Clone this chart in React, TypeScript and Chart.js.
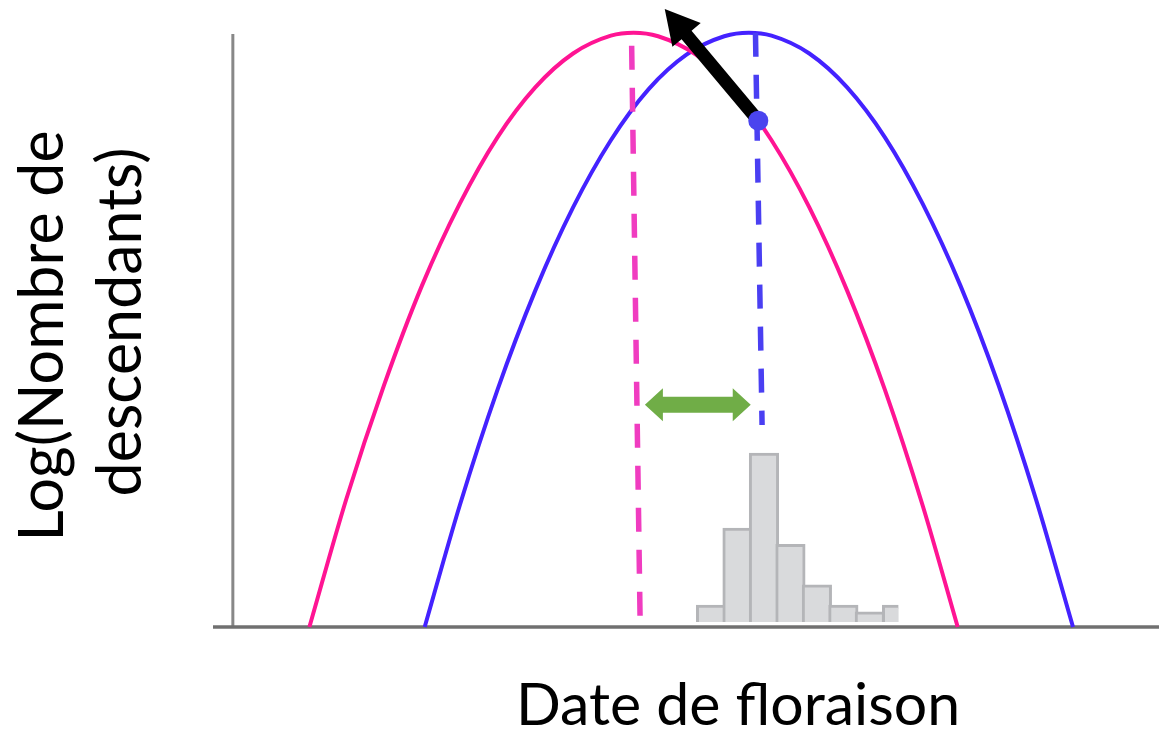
import { useEffect, useRef } from "react";
import { Chart, registerables } from "chart.js";

Chart.register(...registerables);

// Flowering date (arbitrary units) against log(offspring), scaled so the optimum is 100.
const pinkDates = [8.1, 12, 16, 20, 24, 28, 32, 36, 40, 42.4, 45, 49, 53, 57, 61, 65, 69, 73, 76.7];
const pinkFitness = [0, 21.5, 40.7, 57.4, 71.2, 82.4, 90.8, 96.5, 99.5, 100, 99.4, 96.3, 90.5, 81.9, 70.6, 56.6, 39.9, 20.4, 0];
const blueDates = [20.3, 24, 28, 32, 36, 40, 44, 48, 52, 54.6, 57, 61, 65, 69, 73, 77, 81, 85, 88.9];
const blueFitness = [0, 20.4, 39.9, 56.6, 70.6, 81.9, 90.5, 96.3, 99.4, 100, 99.5, 96.5, 90.8, 82.4, 71.2, 57.4, 40.8, 21.4, 0];

// Vertical markers at each optimum (top point first so the dash pattern starts at the top)
const pinkOptimumDates = [42.2, 43.1];
const pinkOptimumLevels = [97.8, 0.5];
const blueOptimumDates = [55.3, 56.0];
const blueOptimumLevels = [100, 34];

// Mean flowering date of the population, sitting on the pink curve
const meanDate = [55.6];
const meanFitness = [85.2];

// Selection arrow (from the mean toward the pink optimum) and the lag arrow
const selectionDates = [55.6, 45.7];
const selectionLevels = [85.2, 104];
const lagDates = [43.6, 54.8];
const lagLevel = [37.4];

// Flowering date histogram
const binStart = 49.2;
const binWidth = 2.8;
const binCounts = [2, 11.1, 20, 9.2, 4.4, 2, 1.2];
const lastBinEdges = [68.8, 70.37];
const lastBinCount = [2];

// Axis lines
const axisDates = [-2.1, 98];
const axisLevels = [0, 99.8];

const xTitle = "Date de floraison";
const yTitle = ["Log(Nombre de", "descendants)"];

const DOT_INDEX = 0;

function arrowPolygon(
  ctx: CanvasRenderingContext2D,
  sx: number,
  sy: number,
  tx: number,
  ty: number,
  shaft: number,
  headLen: number,
  headHalf: number
) {
  const dx = tx - sx;
  const dy = ty - sy;
  const len = Math.hypot(dx, dy);
  const ux = dx / len;
  const uy = dy / len;
  const nx = -uy;
  const ny = ux;
  const bx = tx - ux * headLen;
  const by = ty - uy * headLen;
  const s = shaft / 2;
  ctx.beginPath();
  ctx.moveTo(sx + nx * s, sy + ny * s);
  ctx.lineTo(bx + nx * s, by + ny * s);
  ctx.lineTo(bx + nx * headHalf, by + ny * headHalf);
  ctx.lineTo(tx, ty);
  ctx.lineTo(bx - nx * headHalf, by - ny * headHalf);
  ctx.lineTo(bx - nx * s, by - ny * s);
  ctx.lineTo(sx - nx * s, sy - ny * s);
  ctx.closePath();
  ctx.fill();
}

function doubleArrow(
  ctx: CanvasRenderingContext2D,
  lx: number,
  rx: number,
  cy: number,
  shaft: number,
  headLen: number,
  headHalf: number
) {
  const s = shaft / 2;
  ctx.beginPath();
  ctx.moveTo(lx, cy);
  ctx.lineTo(lx + headLen, cy - headHalf);
  ctx.lineTo(lx + headLen, cy - s);
  ctx.lineTo(rx - headLen, cy - s);
  ctx.lineTo(rx - headLen, cy - headHalf);
  ctx.lineTo(rx, cy);
  ctx.lineTo(rx - headLen, cy + headHalf);
  ctx.lineTo(rx - headLen, cy + s);
  ctx.lineTo(lx + headLen, cy + s);
  ctx.lineTo(lx + headLen, cy + headHalf);
  ctx.closePath();
  ctx.fill();
}

const overlayPlugin = {
  id: "overlay",
  beforeDatasetDraw(chart: any, args: any) {
    if (args.index !== DOT_INDEX) return;
    const ctx: CanvasRenderingContext2D = chart.ctx;
    const xs = chart.scales.x;
    const ys = chart.scales.y;
    ctx.save();
    ctx.fillStyle = "#000000";
    arrowPolygon(
      ctx,
      xs.getPixelForValue(selectionDates[0]),
      ys.getPixelForValue(selectionLevels[0]),
      xs.getPixelForValue(selectionDates[1]),
      ys.getPixelForValue(selectionLevels[1]),
      13,
      34,
      18.5
    );
    ctx.fillStyle = "#70ad47";
    doubleArrow(
      ctx,
      xs.getPixelForValue(lagDates[0]),
      xs.getPixelForValue(lagDates[1]),
      ys.getPixelForValue(lagLevel[0]),
      16,
      18,
      16.5
    );
    ctx.restore();
  },
  afterDraw(chart: any) {
    const ctx: CanvasRenderingContext2D = chart.ctx;
    ctx.save();
    ctx.fillStyle = "#000000";
    ctx.textAlign = "center";
    ctx.textBaseline = "alphabetic";
    ctx.font = "59px Lato, 'Open Sans', sans-serif";
    ctx.fillText(xTitle, 738, 725);
    ctx.font = "61px Lato, 'Open Sans', sans-serif";
    const lines = [
      { text: yTitle[0], x: 63, y: 336 },
      { text: yTitle[1], x: 141, y: 322 },
    ];
    for (const l of lines) {
      ctx.save();
      ctx.translate(l.x, l.y);
      ctx.rotate(-Math.PI / 2);
      ctx.fillText(l.text, 0, 0);
      ctx.restore();
    }
    ctx.restore();
  },
};

const pts = (xs: number[], ys: number[]) => xs.map((x, i) => ({ x, y: ys[i] }));

export default function App() {
  const canvasRef = useRef<HTMLCanvasElement | null>(null);

  useEffect(() => {
    const canvas = canvasRef.current;
    if (!canvas) return;

    const binCenters = binCounts.map((_, i) => binStart + binWidth * (i + 0.5));
    const lastCenter = (lastBinEdges[0] + lastBinEdges[1]) / 2;

    const chart = new Chart(canvas, {
      type: "line",
      data: {
        datasets: [
          {
            label: "moyenne",
            data: pts(meanDate, meanFitness),
            showLine: false,
            pointRadius: 10,
            pointBackgroundColor: "#4a44ee",
            pointBorderWidth: 0,
            order: 0,
          } as any,
          {
            label: "optimum rose",
            data: pts(pinkOptimumDates, pinkOptimumLevels),
            borderColor: "#f03cc0",
            borderWidth: 5.5,
            borderDash: [24, 18],
            pointRadius: 0,
            order: 2,
          },
          {
            label: "optimum bleu",
            data: pts(blueOptimumDates, blueOptimumLevels),
            borderColor: "#4a3ff2",
            borderWidth: 5.5,
            borderDash: [24, 18],
            pointRadius: 0,
            order: 1,
          },
          {
            label: "bleu",
            data: pts(blueDates, blueFitness),
            borderColor: "#4422ff",
            borderWidth: 4,
            pointRadius: 0,
            cubicInterpolationMode: "monotone",
            order: 4,
          },
          {
            label: "rose",
            data: pts(pinkDates, pinkFitness),
            borderColor: "#ff1493",
            borderWidth: 4,
            pointRadius: 0,
            cubicInterpolationMode: "monotone",
            order: 3,
          },
          {
            type: "bar",
            label: "histogramme",
            yAxisID: "yH",
            data: pts(binCenters, binCounts),
            backgroundColor: "#d9dadc",
            borderColor: "#b4b5b8",
            borderWidth: 3,
            borderSkipped: "start",
            barThickness: 29.5,
            grouped: false,
            order: 6,
          } as any,
          {
            type: "bar",
            label: "histogramme (fin)",
            yAxisID: "yH",
            data: pts([lastCenter], lastBinCount),
            backgroundColor: "#d9dadc",
            borderColor: "#b4b5b8",
            borderWidth: { top: 3, left: 3, right: 0, bottom: 0 },
            borderSkipped: false,
            barThickness: 16.3,
            grouped: false,
            order: 6,
          } as any,
          {
            label: "axe x",
            data: pts(axisDates, [0, 0]),
            borderColor: "#707070",
            borderWidth: 3.5,
            pointRadius: 0,
            order: 8,
          },
          {
            label: "axe y",
            data: pts([0, 0], axisLevels),
            borderColor: "#888888",
            borderWidth: 3,
            pointRadius: 0,
            order: 8,
          },
        ],
      },
      options: {
        responsive: false,
        maintainAspectRatio: false,
        animation: false,
        events: [],
        layout: {
          autoPadding: false,
          padding: { left: 213, right: 0, top: 0, bottom: 110 },
        },
        datasets: { line: { clip: false } as any },
        scales: {
          x: { type: "linear", min: -2.1, max: 98, display: false, offset: false },
          y: { type: "linear", min: 0, max: 105.5, display: false },
          yH: { type: "linear", min: -0.592, max: 73.61, display: false },
        },
        plugins: {
          legend: { display: false },
          tooltip: { enabled: false },
        },
      },
      plugins: [overlayPlugin],
    });

    return () => chart.destroy();
  }, []);

  return (
    <div
      style={{
        position: "fixed",
        left: 0,
        top: 0,
        width: 1159,
        height: 737,
        background: "#ffffff",
      }}
    >
      <canvas ref={canvasRef} width={1159} height={737} style={{ display: "block" }} />
    </div>
  );
}
